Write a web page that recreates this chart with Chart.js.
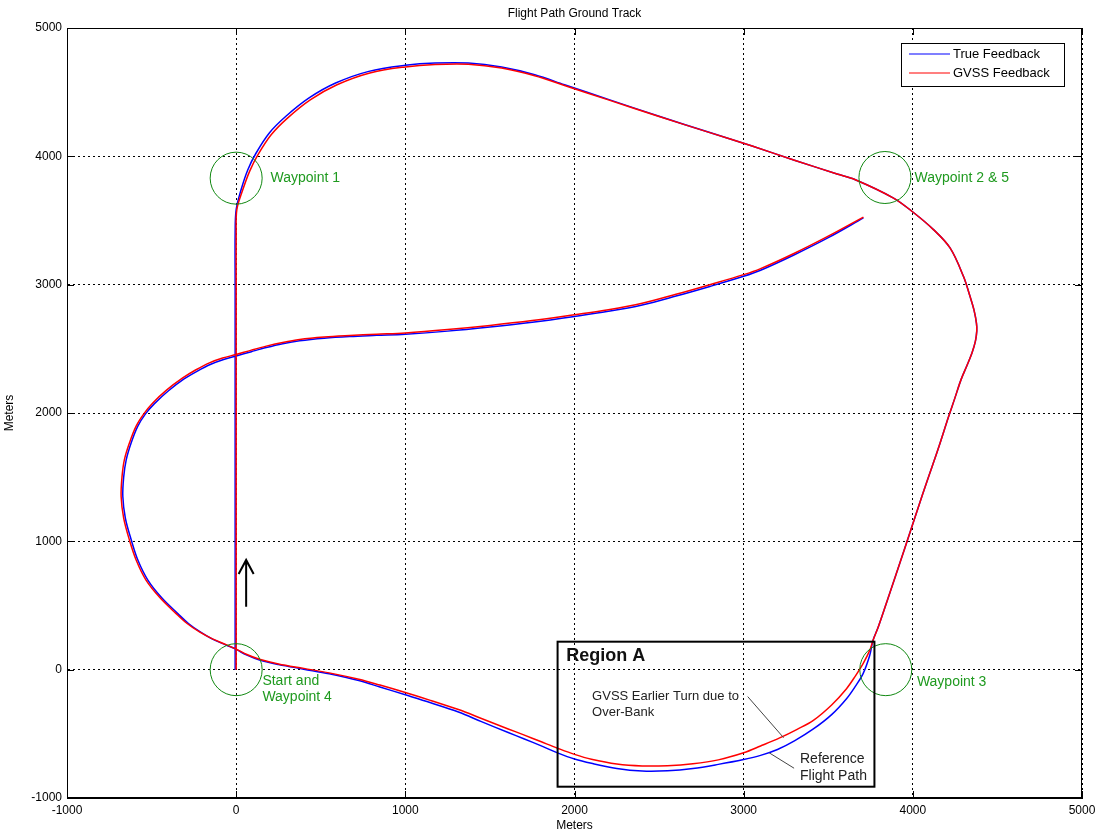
<!DOCTYPE html>
<html>
<head>
<meta charset="utf-8">
<title>Flight Path Ground Track</title>
<script src="https://cdn.jsdelivr.net/npm/chart.js@4.4.0/dist/chart.umd.min.js"></script>
<style>
  html, body { margin: 0; padding: 0; background: #fff; overflow: hidden; }
  #wrap { width: 1102px; height: 835px; }
</style>
</head>
<body>
<div id="wrap"><canvas id="track"></canvas></div>
<script>
// ground track as [east, north] in metres
const truePath = [
  [-6, 0], [-6, 500], [-6, 1000], [-6, 1500], [-6, 2000], [-6, 2500], [-6, 3000], [-6, 3400],
  [0, 3584], [29, 3740], [69, 3896], [118, 4026], [196, 4182], [294, 4312], [431, 4455], [588, 4571],
  [784, 4662], [1000, 4709], [1176, 4727], [1373, 4727], [1569, 4696], [1765, 4636], [1941, 4558],
  [2200, 4444], [2500, 4312], [2800, 4186], [3050, 4080], [3300, 3970], [3552, 3862],
  [3660, 3818], [3886, 3675], [4000, 3566], [4122, 3429], [4220, 3286], [4299, 3065], [4338, 2909],
  [4362, 2800], [4376, 2700], [4378, 2640], [4370, 2560], [4350, 2470], [4320, 2370], [4285, 2260],
  [4247, 2110], [4211, 1970], [4148, 1713], [4087, 1480], [4027, 1245], [3949, 933], [3850, 543],
  [3795, 330], [3765, 230],
  [3745, 110], [3706, -31], [3660, -130], [3608, -226], [3520, -350], [3412, -462], [3300, -555],
  [3200, -622], [3100, -668], [3000, -700], [2850, -738], [2700, -770], [2550, -788], [2400, -790], [2250, -770],
  [2100, -730], [2000, -696], [1900, -648], [1800, -592], [1700, -538], [1608, -490], [1450, -405],
  [1314, -330], [1150, -258], [1000, -196], [850, -135], [725, -85], [550, -32], [400, 4], [250, 40],
  [138, 75], [60, 115], [0, 158],
  [-60, 192], [-140, 238], [-210, 292], [-282, 360], [-345, 437], [-440, 560], [-522, 698], [-580, 850],
  [-620, 1010], [-655, 1180], [-670, 1349], [-665, 1500], [-650, 1635], [-620, 1770], [-582, 1896],
  [-535, 1995], [-483, 2073], [-400, 2173], [-308, 2265], [-232, 2325], [-150, 2380], [-74, 2417],
  [0, 2444], [90, 2478], [178, 2510], [275, 2540], [375, 2563], [520, 2583], [671, 2596], [830, 2605],
  [1000, 2614], [1250, 2638], [1500, 2670], [1750, 2707], [2000, 2752], [2200, 2792], [2400, 2842],
  [2600, 2911], [2800, 2986], [3000, 3065], [3100, 3112], [3300, 3233], [3500, 3366], [3708, 3520]
];

const gvssPath = [
  [0, 0], [0, 500], [0, 1000], [0, 1500], [0, 2000], [0, 2500], [0, 3000], [0, 3400],
  [4, 3584], [38, 3735], [80, 3885], [130, 4015], [208, 4170], [305, 4300], [440, 4442], [596, 4558],
  [790, 4650], [1000, 4697], [1176, 4716], [1373, 4718], [1569, 4688], [1765, 4628], [1941, 4552],
  [2200, 4440], [2500, 4310], [2800, 4185], [3050, 4080], [3300, 3970], [3552, 3862],
  [3660, 3818], [3886, 3675], [4000, 3566], [4122, 3429], [4220, 3286], [4299, 3065], [4338, 2909],
  [4362, 2800], [4376, 2700], [4378, 2640], [4370, 2560], [4350, 2470], [4320, 2370], [4285, 2260],
  [4247, 2110], [4211, 1970], [4148, 1713], [4087, 1480], [4027, 1245], [3949, 933], [3850, 543],
  [3795, 330], [3765, 230],
  [3745, 150], [3706, 47], [3660, -50], [3608, -148], [3520, -275], [3412, -395], [3316, -465],
  [3216, -530], [3100, -595], [3000, -648], [2850, -703], [2700, -733], [2550, -748], [2400, -750],
  [2250, -735], [2100, -698], [2000, -660], [1900, -612], [1800, -560], [1700, -508], [1608, -462],
  [1450, -380], [1314, -310], [1150, -240], [1000, -178], [850, -120], [725, -75], [550, -25], [400, 10],
  [250, 45], [138, 81], [60, 120], [0, 160],
  [-60, 195], [-140, 240], [-217, 294], [-290, 360], [-355, 437], [-450, 560], [-533, 698], [-590, 850],
  [-631, 1010], [-665, 1180], [-680, 1349], [-675, 1500], [-661, 1635], [-630, 1770], [-592, 1896],
  [-545, 1995], [-493, 2078], [-410, 2180], [-316, 2273], [-240, 2335], [-158, 2391], [-80, 2428],
  [0, 2456], [90, 2490], [178, 2521], [275, 2550], [375, 2573], [520, 2592], [671, 2604], [830, 2614],
  [1000, 2624], [1250, 2650], [1500, 2682], [1750, 2720], [2000, 2766], [2200, 2805], [2400, 2855],
  [2600, 2925], [2800, 3000], [3000, 3078], [3100, 3125], [3300, 3245], [3500, 3378], [3708, 3527]
];

const waypointX = [0, 3835, 3840, 0];
const waypointY = [3830, 3835, 0, 0];

const axisMin = -1000;
const axisMax = 5000;
const axisStep = 1000;

function toPoints(path) {
  return path.map(p => ({ x: p[0], y: p[1] }));
}

// text and marks placed on top of the plot, in metres
const notes = {
  waypoints: [
    { text: ['Waypoint 1'], x: 203, y: 3830 },
    { text: ['Waypoint 2 & 5'], x: 4010, y: 3830 },
    { text: ['Waypoint 3'], x: 4024, y: -96 },
    { text: ['Start and', 'Waypoint 4'], x: 155, y: -88 }
  ],
  regionBox: { x0: 1900, y0: 218, x1: 3773, y1: -912 },
  regionTitle: { text: 'Region A', x: 1951, y: 107 },
  callouts: [
    { text: ['GVSS Earlier Turn due to', 'Over-Bank'], x: 2104, y: -205, from: [3024, -210], to: [3236, -530] },
    { text: ['Reference', 'Flight Path'], x: 3333, y: -696, from: [3151, -648], to: [3298, -768] }
  ],
  arrow: { x: 59, y0: 490, y1: 855 }
};

const FONT = '"Liberation Sans", Arial, sans-serif';

const overlay = {
  id: 'overlay',
  afterDatasetsDraw(chart) {
    const ctx = chart.ctx;
    const area = chart.chartArea;
    const xs = chart.scales.x, ys = chart.scales.y;
    const px = v => xs.getPixelForValue(v);
    const py = v => ys.getPixelForValue(v);
    ctx.save();

    // axes box with inward ticks
    ctx.strokeStyle = '#000';
    ctx.lineWidth = 1;
    ctx.strokeRect(Math.round(area.left) + 0.5, Math.round(area.top) + 0.5,
      Math.round(area.width) - 1, Math.round(area.height) - 1);
    ctx.beginPath();
    xs.ticks.forEach(t => {
      const x = Math.round(px(t.value)) + 0.5;
      ctx.moveTo(x, area.bottom); ctx.lineTo(x, area.bottom - 7);
      ctx.moveTo(x, area.top); ctx.lineTo(x, area.top + 7);
    });
    ys.ticks.forEach(t => {
      const y = Math.round(py(t.value)) + 0.5;
      ctx.moveTo(area.left, y); ctx.lineTo(area.left + 7, y);
      ctx.moveTo(area.right, y); ctx.lineTo(area.right - 7, y);
    });
    ctx.stroke();

    // waypoint labels
    ctx.fillStyle = '#1f9a1f';
    ctx.font = '14px ' + FONT;
    ctx.textBaseline = 'middle';
    ctx.textAlign = 'left';
    notes.waypoints.forEach(w => {
      w.text.forEach((line, i) => ctx.fillText(line, px(w.x), py(w.y) + i * 16));
    });

    // region A
    const b = notes.regionBox;
    ctx.strokeStyle = '#000';
    ctx.lineWidth = 2;
    ctx.strokeRect(px(b.x0), py(b.y0), px(b.x1) - px(b.x0), py(b.y1) - py(b.y0));
    ctx.fillStyle = '#111';
    ctx.font = 'bold 18px ' + FONT;
    ctx.fillText(notes.regionTitle.text, px(notes.regionTitle.x), py(notes.regionTitle.y));

    notes.callouts.forEach((c, k) => {
      ctx.font = (k === 0 ? '13px ' : '14px ') + FONT;
      ctx.fillStyle = '#222';
      const step = k === 0 ? 16 : 17;
      c.text.forEach((line, i) => ctx.fillText(line, px(c.x), py(c.y) + i * step));
      ctx.strokeStyle = '#444';
      ctx.lineWidth = 1;
      ctx.beginPath();
      ctx.moveTo(px(c.from[0]), py(c.from[1]));
      ctx.lineTo(px(c.to[0]), py(c.to[1]));
      ctx.stroke();
    });

    // direction arrow
    const a = notes.arrow;
    const ax = px(a.x), tip = py(a.y1);
    ctx.strokeStyle = '#000';
    ctx.lineWidth = 2;
    ctx.beginPath();
    ctx.moveTo(ax, py(a.y0)); ctx.lineTo(ax, tip);
    ctx.moveTo(ax - 7.5, tip + 14); ctx.lineTo(ax, tip); ctx.lineTo(ax + 7.5, tip + 14);
    ctx.stroke();

    // legend
    const items = chart.data.datasets.filter(d => d.inLegend);
    const w = 163, h = 43;
    const lx = area.right - 18 - w, ly = area.top + 15;
    ctx.fillStyle = '#fff';
    ctx.fillRect(lx, ly, w, h);
    ctx.strokeStyle = '#000';
    ctx.lineWidth = 1;
    ctx.strokeRect(Math.round(lx) + 0.5, Math.round(ly) + 0.5, w, h);
    ctx.font = '13px ' + FONT;
    items.forEach((d, i) => {
      const y = ly + 11 + i * 19;
      ctx.strokeStyle = d.borderColor;
      ctx.lineWidth = 1.2;
      ctx.beginPath();
      ctx.moveTo(lx + 8, y); ctx.lineTo(lx + 49, y);
      ctx.stroke();
      ctx.fillStyle = '#000';
      ctx.fillText(d.label, lx + 52, y);
    });
    ctx.restore();
  }
};

const tickFont = { family: FONT, size: 12 };

new Chart(document.getElementById('track'), {
  type: 'scatter',
  data: {
    datasets: [
      { label: 'True Feedback', inLegend: true, data: toPoints(truePath), showLine: true,
        borderColor: '#0000ff', borderWidth: 1.5, pointRadius: 0, tension: 0.35, order: 2 },
      { label: 'GVSS Feedback', inLegend: true, data: toPoints(gvssPath), showLine: true,
        borderColor: '#ff0000', borderWidth: 1.5, pointRadius: 0, tension: 0.35, order: 1 },
      { label: 'Waypoints', data: waypointX.map((x, i) => ({ x: x, y: waypointY[i] })), showLine: false,
        pointStyle: 'circle', pointRadius: 26, pointHoverRadius: 26, borderWidth: 1,
        borderColor: '#118811', backgroundColor: 'rgba(0,0,0,0)', order: 0 }
    ]
  },
  options: {
    responsive: true,
    maintainAspectRatio: false,
    animation: false,
    devicePixelRatio: 1,
    events: [],
    layout: { autoPadding: false, padding: { top: 0, right: 20, bottom: 0, left: 0 } },
    plugins: {
      legend: { display: false },
      tooltip: { enabled: false },
      title: {
        display: true, text: 'Flight Path Ground Track', fullSize: false,
        color: '#000', font: { family: FONT, size: 12, weight: 'normal' },
        padding: { top: 6, bottom: 7.6 }
      }
    },
    scales: {
      x: {
        type: 'linear', min: axisMin, max: axisMax,
        afterFit: s => { s.height = 37; },
        ticks: { stepSize: axisStep, color: '#000', font: tickFont, padding: 5, callback: v => String(v) },
        grid: { color: '#000', lineWidth: 1, drawTicks: false },
        border: { display: true, color: '#000', dash: [2, 3] },
        title: { display: true, text: 'Meters', color: '#000', font: { family: FONT, size: 12 }, padding: { top: 0, bottom: 2 } }
      },
      y: {
        type: 'linear', min: axisMin, max: axisMax,
        afterFit: s => { s.width = 67; },
        ticks: { stepSize: axisStep, color: '#000', font: tickFont, padding: 5, callback: v => String(v) },
        grid: { color: '#000', lineWidth: 1, drawTicks: false },
        border: { display: true, color: '#000', dash: [2, 3] },
        title: { display: true, text: 'Meters', color: '#000', font: { family: FONT, size: 12 }, padding: { top: 2, bottom: 0 } }
      }
    }
  },
  plugins: [overlay]
});
</script>
</body>
</html>
